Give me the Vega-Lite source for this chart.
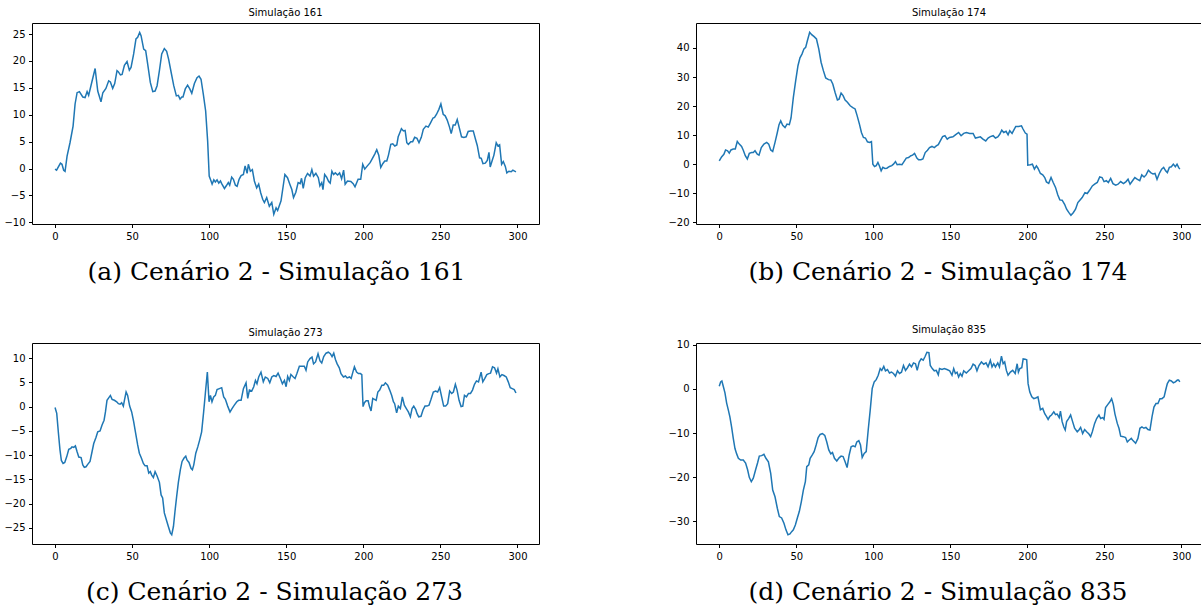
{
  "$schema": "https://vega.github.io/schema/vega-lite/v6.json",
  "padding": {"left": 1, "top": 7, "right": 0, "bottom": 0},
  "background": "white",
  "config": {
    "view": {"stroke": "#000", "strokeWidth": 1},
    "axis": {"grid": false, "domain": false, "tickColor": "#000", "tickSize": 3.5, "tickWidth": 1, "labelFont": "DejaVu Sans", "labelFontSize": 10, "labelColor": "#000", "labelPadding": 3.5},
    "axisY": {"minExtent": 30, "maxExtent": 30},
    "axisX": {"titleFont": "DejaVu Serif", "titleFontSize": 25, "titleFontWeight": "normal", "titleColor": "#000", "titlePadding": 18},
    "title": {"font": "DejaVu Sans", "fontSize": 10, "fontWeight": "normal", "color": "#000", "offset": 5},
    "line": {"color": "#1f77b4", "strokeWidth": 1.5}
  },
  "columns": 2,
  "spacing": {"row": 39, "column": 125},
  "concat": [
    {
      "title": "Simulação 161",
      "width": 507, "height": 201,
      "data": {"values": [
{"x":0,"y":-0.1},{"x":1,"y":-0.3},{"x":3.5,"y":1.0},{"x":4.5,"y":0.8},{"x":5.6,"y":-0.3},{"x":6.5,"y":-0.5},{"x":7.8,"y":2.3},{"x":9.7,"y":4.8},{"x":11.7,"y":7.9},{"x":13,"y":12.0},{"x":14.3,"y":14.1},{"x":15.8,"y":14.3},{"x":18,"y":13.3},{"x":19.5,"y":13.2},{"x":20.8,"y":14.3},{"x":21.8,"y":13.6},{"x":23.8,"y":16.0},{"x":26,"y":18.6},{"x":27.7,"y":14.4},{"x":29.8,"y":12.4},{"x":31,"y":14.1},{"x":33,"y":14.9},{"x":34.8,"y":16.3},{"x":35.9,"y":16.1},{"x":37.4,"y":14.9},{"x":38.7,"y":15.8},{"x":40.2,"y":18.2},{"x":41,"y":18.0},{"x":42.4,"y":17.4},{"x":43.5,"y":17.5},{"x":45,"y":19.2},{"x":46.7,"y":19.9},{"x":48.2,"y":18.3},{"x":49.3,"y":18.8},{"x":51,"y":21.3},{"x":52.5,"y":24.1},{"x":53.6,"y":24.4},{"x":54.9,"y":25.3},{"x":55.8,"y":24.7},{"x":57.5,"y":22.2},{"x":58.8,"y":21.9},{"x":60.1,"y":19.4},{"x":61.8,"y":16.0},{"x":63.4,"y":14.3},{"x":64.9,"y":14.4},{"x":66.2,"y":15.4},{"x":67.7,"y":18.2},{"x":69.2,"y":21.3},{"x":70.9,"y":22.3},{"x":72.4,"y":21.8},{"x":73.7,"y":20.3},{"x":75.3,"y":17.9},{"x":77,"y":15.4},{"x":78.7,"y":13.5},{"x":80,"y":13.6},{"x":81.1,"y":12.9},{"x":82.2,"y":13.3},{"x":83,"y":13.3},{"x":84.5,"y":14.8},{"x":86,"y":15.5},{"x":87.4,"y":14.8},{"x":88.7,"y":14.0},{"x":90.4,"y":15.8},{"x":92.1,"y":16.9},{"x":93.4,"y":17.2},{"x":94.7,"y":16.6},{"x":96.2,"y":13.8},{"x":97.7,"y":10.7},{"x":99,"y":5.1},{"x":100,"y":-1.4},{"x":101.2,"y":-2.3},{"x":101.9,"y":-2.9},{"x":103,"y":-2.1},{"x":104,"y":-2.5},{"x":105.1,"y":-2.1},{"x":106.2,"y":-2.7},{"x":107.3,"y":-2.3},{"x":108.1,"y":-2.8},{"x":109.9,"y":-3.7},{"x":111.1,"y":-3.2},{"x":112.4,"y":-2.6},{"x":113.3,"y":-3.1},{"x":114.6,"y":-1.6},{"x":115.7,"y":-2.0},{"x":117,"y":-3.1},{"x":118.1,"y":-3.3},{"x":119.4,"y":-2.0},{"x":120.7,"y":-1.3},{"x":122.2,"y":-1.1},{"x":123.3,"y":0.5},{"x":124.6,"y":-0.9},{"x":125.4,"y":0.8},{"x":126.7,"y":-0.5},{"x":128,"y":-0.2},{"x":129.3,"y":-2.3},{"x":130.8,"y":-3.6},{"x":132.1,"y":-2.9},{"x":133.4,"y":-4.5},{"x":134.7,"y":-5.7},{"x":135.8,"y":-6.3},{"x":137.3,"y":-5.4},{"x":139,"y":-7.0},{"x":140.6,"y":-6.3},{"x":141.9,"y":-8.5},{"x":143.4,"y":-7.3},{"x":144.4,"y":-7.8},{"x":146.6,"y":-6.0},{"x":149.1,"y":-1.1},{"x":150.8,"y":-1.7},{"x":152.3,"y":-2.9},{"x":153.6,"y":-3.9},{"x":154.7,"y":-5.4},{"x":156.2,"y":-4.4},{"x":157.7,"y":-2.6},{"x":159,"y":-2.8},{"x":159.9,"y":-1.8},{"x":161,"y":-3.7},{"x":162.3,"y":-1.7},{"x":163.8,"y":-0.9},{"x":165.4,"y":-1.4},{"x":166.6,"y":-0.2},{"x":167.7,"y":-1.4},{"x":169.2,"y":-0.9},{"x":170.8,"y":-1.7},{"x":171.8,"y":-3.2},{"x":173,"y":-2.6},{"x":173.8,"y":-3.9},{"x":174.9,"y":-1.1},{"x":176.2,"y":-1.6},{"x":177.5,"y":-2.4},{"x":178.5,"y":-2.7},{"x":179.6,"y":-0.5},{"x":180.7,"y":-1.1},{"x":181.8,"y":-0.8},{"x":183.3,"y":-1.2},{"x":184.6,"y":-0.8},{"x":185.9,"y":-1.9},{"x":187.2,"y":-0.3},{"x":188.2,"y":-2.9},{"x":189.7,"y":-2.3},{"x":191.9,"y":-2.4},{"x":193.4,"y":-2.8},{"x":194.6,"y":-3.4},{"x":196.6,"y":-2.0},{"x":198.3,"y":-2.0},{"x":199.6,"y":0.8},{"x":200.9,"y":-0.1},{"x":202.6,"y":0.5},{"x":204.4,"y":1.1},{"x":205.9,"y":1.9},{"x":207.4,"y":2.7},{"x":208.7,"y":3.5},{"x":210,"y":2.5},{"x":211.3,"y":0.2},{"x":212.6,"y":0.9},{"x":213.9,"y":1.4},{"x":215.2,"y":1.4},{"x":216.3,"y":2.5},{"x":217.8,"y":4.5},{"x":219.1,"y":4.6},{"x":220.4,"y":4.2},{"x":221.7,"y":4.4},{"x":222.6,"y":5.9},{"x":223.6,"y":6.6},{"x":224.7,"y":7.4},{"x":226,"y":7.0},{"x":227.1,"y":7.1},{"x":228.2,"y":4.8},{"x":229.2,"y":4.5},{"x":230.8,"y":5.0},{"x":232,"y":5.0},{"x":233.3,"y":5.8},{"x":234.8,"y":5.6},{"x":236.1,"y":4.8},{"x":237.6,"y":5.8},{"x":238.9,"y":7.3},{"x":240.6,"y":7.9},{"x":242.1,"y":7.7},{"x":243.6,"y":8.5},{"x":245.2,"y":9.4},{"x":246.2,"y":9.5},{"x":247.5,"y":10.1},{"x":249,"y":11.0},{"x":250.3,"y":12.0},{"x":251.8,"y":10.1},{"x":253.1,"y":9.8},{"x":254.4,"y":9.0},{"x":255.9,"y":7.7},{"x":257,"y":6.5},{"x":258.3,"y":8.1},{"x":259.6,"y":8.1},{"x":260.9,"y":9.1},{"x":262.4,"y":7.4},{"x":263.7,"y":5.9},{"x":265.2,"y":5.8},{"x":266.7,"y":5.9},{"x":268,"y":6.9},{"x":269.5,"y":7.0},{"x":271.3,"y":7.0},{"x":272.8,"y":5.4},{"x":273.9,"y":4.3},{"x":275.4,"y":2.0},{"x":276.5,"y":1.9},{"x":277.6,"y":0.9},{"x":279.1,"y":1.0},{"x":280.4,"y":1.5},{"x":281.5,"y":3.0},{"x":282.3,"y":0.3},{"x":283.6,"y":1.5},{"x":284.7,"y":2.5},{"x":286.2,"y":4.8},{"x":287.3,"y":4.2},{"x":288.4,"y":4.4},{"x":289.7,"y":0.8},{"x":290.8,"y":1.3},{"x":292.1,"y":0.4},{"x":293.1,"y":-0.8},{"x":294.4,"y":-0.5},{"x":295.9,"y":-0.6},{"x":297,"y":-0.3},{"x":299,"y":-0.6}
      ]},
      "mark": {"type": "line"},
      "encoding": {
        "x": {"field": "x", "type": "quantitative", "scale": {"domain": [-14.95, 313.95], "nice": false, "zero": false}, "axis": {"values": [0, 50, 100, 150, 200, 250, 300], "title": "(a) Cenário 2 - Simulação 161", "titleX": 244}},
        "y": {"field": "y", "type": "quantitative", "scale": {"domain": [-10.3, 27.05], "nice": false, "zero": false}, "axis": {"values": [-10, -5, 0, 5, 10, 15, 20, 25], "title": null}}
      }
    },
    {
      "title": "Simulação 174",
      "width": 506, "height": 201,
      "data": {"values": [
{"x":0,"y":1.1},{"x":1.5,"y":2.5},{"x":3,"y":3.4},{"x":4.1,"y":4.9},{"x":5.4,"y":4.6},{"x":6.5,"y":3.8},{"x":7.6,"y":4.9},{"x":9.1,"y":5.2},{"x":10.4,"y":5.2},{"x":11.7,"y":7.8},{"x":13,"y":6.9},{"x":14.5,"y":6.1},{"x":15.6,"y":4.8},{"x":16.9,"y":2.9},{"x":18.2,"y":1.8},{"x":19.5,"y":3.7},{"x":21,"y":4.0},{"x":22.1,"y":4.0},{"x":23.2,"y":4.6},{"x":24.7,"y":3.4},{"x":25.8,"y":3.1},{"x":27.3,"y":5.7},{"x":29,"y":6.9},{"x":30.8,"y":7.5},{"x":32.1,"y":6.9},{"x":33.4,"y":4.9},{"x":34.7,"y":4.4},{"x":36.2,"y":7.5},{"x":37.7,"y":10.9},{"x":38.8,"y":13.6},{"x":39.9,"y":14.9},{"x":41.2,"y":13.4},{"x":42.7,"y":12.6},{"x":44,"y":13.8},{"x":45.5,"y":13.6},{"x":46.6,"y":15.9},{"x":48.1,"y":23.0},{"x":49.6,"y":28.7},{"x":51.1,"y":33.9},{"x":52.4,"y":36.6},{"x":53.7,"y":37.9},{"x":55,"y":39.7},{"x":56.1,"y":40.2},{"x":57.2,"y":42.5},{"x":58.7,"y":45.4},{"x":60,"y":44.6},{"x":61.6,"y":43.9},{"x":63.1,"y":43.1},{"x":64.6,"y":39.7},{"x":66.1,"y":35.1},{"x":67.6,"y":32.2},{"x":69.1,"y":29.7},{"x":70.9,"y":29.1},{"x":72.4,"y":29.0},{"x":73.7,"y":27.6},{"x":75.2,"y":24.7},{"x":76.7,"y":22.1},{"x":77.8,"y":22.4},{"x":79.1,"y":24.5},{"x":80.4,"y":23.6},{"x":81.7,"y":22.1},{"x":83.2,"y":21.3},{"x":85,"y":20.1},{"x":86.7,"y":19.5},{"x":88.2,"y":19.0},{"x":89.5,"y":16.7},{"x":91,"y":13.8},{"x":92.3,"y":10.9},{"x":93.6,"y":9.2},{"x":94.9,"y":9.0},{"x":96.2,"y":7.7},{"x":97.5,"y":7.5},{"x":98.8,"y":7.8},{"x":99.7,"y":0.0},{"x":100.8,"y":-0.8},{"x":101.9,"y":-0.5},{"x":103,"y":0.6},{"x":104,"y":-0.6},{"x":105.1,"y":-2.3},{"x":106.2,"y":-1.1},{"x":107.5,"y":-1.5},{"x":108.8,"y":-1.4},{"x":110.5,"y":-0.8},{"x":112,"y":-0.5},{"x":113.1,"y":0.0},{"x":114.4,"y":0.9},{"x":115.5,"y":-0.2},{"x":117,"y":0.0},{"x":118.6,"y":-0.2},{"x":119.6,"y":0.6},{"x":121.4,"y":2.1},{"x":122.9,"y":2.3},{"x":124.4,"y":2.9},{"x":125.5,"y":3.1},{"x":126.8,"y":3.7},{"x":128.3,"y":2.1},{"x":129.4,"y":1.5},{"x":130.9,"y":1.5},{"x":132.2,"y":1.8},{"x":133.7,"y":4.0},{"x":135.2,"y":4.8},{"x":136.5,"y":5.7},{"x":138.1,"y":6.1},{"x":139.6,"y":5.7},{"x":140.9,"y":6.3},{"x":142.2,"y":6.7},{"x":143.5,"y":8.0},{"x":145,"y":9.5},{"x":146.5,"y":9.8},{"x":148,"y":8.6},{"x":149.5,"y":9.2},{"x":151.7,"y":9.4},{"x":153.3,"y":10.1},{"x":155.4,"y":10.9},{"x":157,"y":9.8},{"x":158.7,"y":10.6},{"x":160.4,"y":10.9},{"x":162.6,"y":10.6},{"x":164.8,"y":10.6},{"x":166.3,"y":9.0},{"x":167.8,"y":9.2},{"x":169.5,"y":9.4},{"x":171.2,"y":8.6},{"x":173,"y":8.0},{"x":174.5,"y":9.0},{"x":176,"y":9.5},{"x":177.8,"y":9.8},{"x":179.3,"y":9.0},{"x":180.8,"y":9.4},{"x":182.1,"y":10.3},{"x":183.4,"y":11.7},{"x":184.7,"y":10.9},{"x":186.2,"y":11.3},{"x":187.5,"y":10.1},{"x":188.6,"y":11.5},{"x":190.1,"y":10.6},{"x":191.2,"y":11.7},{"x":192.5,"y":13.0},{"x":194.4,"y":13.0},{"x":196.2,"y":13.2},{"x":197.2,"y":12.1},{"x":198.7,"y":10.7},{"x":199.8,"y":10.3},{"x":200.3,"y":-0.3},{"x":201.9,"y":-0.2},{"x":203.3,"y":0.0},{"x":204.6,"y":-1.7},{"x":205.9,"y":-0.6},{"x":206.9,"y":-1.4},{"x":208.5,"y":-3.2},{"x":210,"y":-3.7},{"x":211.3,"y":-4.6},{"x":212.4,"y":-6.1},{"x":213.9,"y":-6.6},{"x":215.4,"y":-4.6},{"x":216.8,"y":-6.3},{"x":218.3,"y":-8.0},{"x":219.8,"y":-10.6},{"x":221.1,"y":-12.3},{"x":222.6,"y":-12.4},{"x":224.2,"y":-13.8},{"x":225.5,"y":-15.5},{"x":227,"y":-16.7},{"x":228.3,"y":-17.6},{"x":229.8,"y":-16.7},{"x":231.3,"y":-15.5},{"x":232.8,"y":-13.2},{"x":234.1,"y":-12.4},{"x":235.6,"y":-11.5},{"x":237.4,"y":-9.8},{"x":238.9,"y":-10.1},{"x":240.4,"y":-9.0},{"x":242.2,"y":-7.5},{"x":243.7,"y":-6.9},{"x":245.4,"y":-6.3},{"x":247,"y":-4.4},{"x":248.5,"y":-4.6},{"x":249.8,"y":-6.0},{"x":251.3,"y":-5.7},{"x":252.6,"y":-6.3},{"x":254.1,"y":-4.9},{"x":255.6,"y":-6.7},{"x":257.4,"y":-7.2},{"x":258.9,"y":-6.9},{"x":260.6,"y":-6.0},{"x":262.4,"y":-6.7},{"x":264.1,"y":-6.0},{"x":265.4,"y":-5.2},{"x":266.7,"y":-6.9},{"x":268.3,"y":-5.7},{"x":269.8,"y":-4.6},{"x":271.5,"y":-5.2},{"x":273,"y":-5.7},{"x":274.3,"y":-3.7},{"x":275.8,"y":-4.4},{"x":277.1,"y":-3.7},{"x":278.6,"y":-2.1},{"x":280.1,"y":-2.9},{"x":281.6,"y":-3.4},{"x":282.9,"y":-3.2},{"x":284.2,"y":-5.2},{"x":285.7,"y":-3.2},{"x":287.2,"y":-1.7},{"x":288.5,"y":-1.1},{"x":289.8,"y":-2.3},{"x":290.9,"y":-2.9},{"x":292.2,"y":-1.1},{"x":293.5,"y":-0.9},{"x":294.8,"y":0.0},{"x":296.1,"y":-0.9},{"x":297.2,"y":0.0},{"x":298.2,"y":-1.1},{"x":299,"y":-1.7}
      ]},
      "mark": {"type": "line"},
      "encoding": {
        "x": {"field": "x", "type": "quantitative", "scale": {"domain": [-15.1, 313.4], "nice": false, "zero": false}, "axis": {"values": [0, 50, 100, 150, 200, 250, 300], "title": "(b) Cenário 2 - Simulação 174", "titleX": 241.5}},
        "y": {"field": "y", "type": "quantitative", "scale": {"domain": [-20.6, 48.6], "nice": false, "zero": false}, "axis": {"values": [-20, -10, 0, 10, 20, 30, 40], "title": null}}
      }
    },
    {
      "title": "Simulação 273",
      "width": 507, "height": 201,
      "data": {"values": [
{"x":0,"y":-0.2},{"x":1.1,"y":-1.4},{"x":2.2,"y":-5.5},{"x":3.2,"y":-8.9},{"x":4.1,"y":-11.1},{"x":5.2,"y":-11.7},{"x":6.3,"y":-11.5},{"x":7.6,"y":-10.3},{"x":8.9,"y":-8.8},{"x":10.2,"y":-8.6},{"x":11,"y":-8.3},{"x":12.1,"y":-8.4},{"x":13.2,"y":-8.1},{"x":14.3,"y":-9.3},{"x":15.4,"y":-10.4},{"x":16.9,"y":-10.5},{"x":18,"y":-12.0},{"x":19,"y":-12.5},{"x":20.1,"y":-12.4},{"x":21.2,"y":-11.9},{"x":22.7,"y":-11.3},{"x":24,"y":-9.3},{"x":25.1,"y":-7.6},{"x":26.6,"y":-6.3},{"x":27.7,"y":-5.2},{"x":29.2,"y":-5.0},{"x":30.5,"y":-3.8},{"x":31.8,"y":-2.8},{"x":32.7,"y":-1.1},{"x":33.7,"y":1.3},{"x":34.8,"y":1.8},{"x":35.9,"y":2.3},{"x":37,"y":1.5},{"x":38.5,"y":1.3},{"x":40,"y":1.0},{"x":41.1,"y":0.6},{"x":42.2,"y":0.5},{"x":43.2,"y":0.8},{"x":44.3,"y":0.1},{"x":45,"y":1.3},{"x":46.1,"y":3.0},{"x":47.1,"y":2.3},{"x":48.4,"y":0.1},{"x":49.7,"y":-1.1},{"x":51,"y":-3.1},{"x":52.3,"y":-5.5},{"x":53.6,"y":-7.9},{"x":54.7,"y":-9.6},{"x":56,"y":-10.6},{"x":57.3,"y":-11.7},{"x":58.4,"y":-12.2},{"x":59.7,"y":-12.2},{"x":60.8,"y":-13.7},{"x":61.8,"y":-13.4},{"x":62.7,"y":-14.1},{"x":63.8,"y":-14.6},{"x":64.9,"y":-13.4},{"x":66.2,"y":-14.3},{"x":67.7,"y":-15.6},{"x":68.8,"y":-18.2},{"x":69.8,"y":-18.8},{"x":70.9,"y":-21.9},{"x":72.2,"y":-23.3},{"x":73.5,"y":-24.7},{"x":74.8,"y":-26.0},{"x":75.7,"y":-26.4},{"x":76.8,"y":-24.7},{"x":77.8,"y":-21.6},{"x":78.9,"y":-18.5},{"x":80,"y":-15.6},{"x":81.3,"y":-13.0},{"x":82.4,"y":-11.3},{"x":83.7,"y":-10.6},{"x":84.8,"y":-10.2},{"x":85.6,"y":-11.0},{"x":86.9,"y":-11.5},{"x":88.2,"y":-12.7},{"x":89.1,"y":-13.0},{"x":90,"y":-12.0},{"x":91.3,"y":-9.6},{"x":92.6,"y":-8.3},{"x":93.8,"y":-6.9},{"x":95.1,"y":-5.2},{"x":96.4,"y":-1.1},{"x":97.5,"y":2.7},{"x":98.8,"y":7.1},{"x":99.9,"y":1.0},{"x":100.8,"y":2.3},{"x":101.8,"y":1.0},{"x":102.9,"y":2.0},{"x":104,"y":2.3},{"x":105.1,"y":3.5},{"x":106.6,"y":3.7},{"x":108.1,"y":3.9},{"x":109.4,"y":2.0},{"x":110.5,"y":1.5},{"x":112,"y":0.1},{"x":113.5,"y":-1.1},{"x":114.8,"y":-0.4},{"x":116.3,"y":0.3},{"x":117.9,"y":1.0},{"x":119.1,"y":1.3},{"x":120.7,"y":1.3},{"x":122.2,"y":3.7},{"x":123.9,"y":4.9},{"x":125,"y":1.7},{"x":126.1,"y":3.4},{"x":127.6,"y":3.2},{"x":128.9,"y":4.1},{"x":130,"y":5.4},{"x":131,"y":4.7},{"x":132.1,"y":6.1},{"x":133.6,"y":7.1},{"x":135.1,"y":5.1},{"x":136.4,"y":6.1},{"x":138,"y":5.8},{"x":139.3,"y":4.9},{"x":140.6,"y":6.1},{"x":141.9,"y":6.4},{"x":143.4,"y":6.2},{"x":144.7,"y":6.9},{"x":146.2,"y":5.8},{"x":147.5,"y":4.7},{"x":148.8,"y":5.4},{"x":149.9,"y":4.1},{"x":150.9,"y":6.2},{"x":152,"y":5.4},{"x":153,"y":6.6},{"x":154.6,"y":6.1},{"x":155.7,"y":5.8},{"x":156.9,"y":6.8},{"x":158.5,"y":8.3},{"x":160,"y":8.3},{"x":161.7,"y":8.3},{"x":162.8,"y":7.5},{"x":163.9,"y":9.2},{"x":165.4,"y":9.9},{"x":166.7,"y":10.2},{"x":167.7,"y":8.8},{"x":169,"y":9.2},{"x":170.6,"y":10.9},{"x":171.9,"y":9.4},{"x":173,"y":9.0},{"x":174.3,"y":10.3},{"x":175.8,"y":11.0},{"x":177.3,"y":11.2},{"x":178.6,"y":10.9},{"x":179.7,"y":10.3},{"x":180.8,"y":11.0},{"x":181.9,"y":9.7},{"x":183,"y":8.8},{"x":184.4,"y":8.0},{"x":185.5,"y":6.8},{"x":187.1,"y":6.1},{"x":188.4,"y":6.3},{"x":189.5,"y":5.9},{"x":191,"y":6.1},{"x":192.1,"y":5.8},{"x":193.2,"y":7.1},{"x":194.2,"y":8.2},{"x":195.6,"y":7.1},{"x":196.8,"y":6.8},{"x":198.1,"y":6.8},{"x":199,"y":6.6},{"x":199.8,"y":0.0},{"x":200.7,"y":0.8},{"x":201.8,"y":1.2},{"x":203.1,"y":1.2},{"x":204,"y":0.0},{"x":205,"y":-0.9},{"x":206.1,"y":1.7},{"x":207.2,"y":1.5},{"x":208.3,"y":1.3},{"x":209.4,"y":3.0},{"x":210.6,"y":3.4},{"x":212,"y":4.4},{"x":213.2,"y":4.4},{"x":214.3,"y":4.9},{"x":215.8,"y":4.4},{"x":217.1,"y":3.4},{"x":218.4,"y":2.3},{"x":219.5,"y":1.0},{"x":220.3,"y":0.6},{"x":221.6,"y":-1.3},{"x":222.7,"y":0.1},{"x":224,"y":-0.4},{"x":225.3,"y":2.0},{"x":226.6,"y":0.3},{"x":227.9,"y":-0.4},{"x":229.2,"y":-1.1},{"x":230.5,"y":-2.1},{"x":231.6,"y":-0.4},{"x":232.7,"y":0.1},{"x":234,"y":-0.6},{"x":234.8,"y":-1.4},{"x":235.9,"y":-2.1},{"x":237.4,"y":-2.0},{"x":238.7,"y":-0.7},{"x":240,"y":0.1},{"x":241.3,"y":0.1},{"x":242.6,"y":0.3},{"x":243.9,"y":1.5},{"x":245.4,"y":3.0},{"x":246.9,"y":3.2},{"x":248.2,"y":3.0},{"x":249.5,"y":3.9},{"x":250.8,"y":2.0},{"x":252.1,"y":0.1},{"x":253.4,"y":0.1},{"x":254.7,"y":0.6},{"x":256,"y":3.2},{"x":257.3,"y":2.7},{"x":258.4,"y":3.0},{"x":259.7,"y":4.6},{"x":260.8,"y":3.4},{"x":262.1,"y":1.3},{"x":263.4,"y":0.0},{"x":264.5,"y":0.1},{"x":265.6,"y":2.3},{"x":266.9,"y":2.0},{"x":268.2,"y":2.7},{"x":269.5,"y":2.7},{"x":270.8,"y":3.4},{"x":272.1,"y":4.6},{"x":273.4,"y":5.3},{"x":274.7,"y":5.1},{"x":276.4,"y":7.1},{"x":277.5,"y":5.1},{"x":278.8,"y":5.8},{"x":280.1,"y":6.6},{"x":281.4,"y":6.8},{"x":282.5,"y":6.9},{"x":283.8,"y":8.2},{"x":285.1,"y":8.0},{"x":286.4,"y":6.9},{"x":287.3,"y":7.8},{"x":288.6,"y":6.1},{"x":289.9,"y":6.6},{"x":291.2,"y":6.4},{"x":292.7,"y":6.1},{"x":294,"y":5.1},{"x":295.3,"y":3.9},{"x":296.6,"y":3.7},{"x":297.9,"y":3.5},{"x":299,"y":2.8}
      ]},
      "mark": {"type": "line"},
      "encoding": {
        "x": {"field": "x", "type": "quantitative", "scale": {"domain": [-14.95, 313.95], "nice": false, "zero": false}, "axis": {"values": [0, 50, 100, 150, 200, 250, 300], "title": "(c) Cenário 2 - Simulação 273", "titleX": 242}},
        "y": {"field": "y", "type": "quantitative", "scale": {"domain": [-28.3, 13.1], "nice": false, "zero": false}, "axis": {"values": [-25, -20, -15, -10, -5, 0, 5, 10], "title": null}}
      }
    },
    {
      "title": "Simulação 835",
      "width": 506, "height": 201,
      "data": {"values": [
{"x":0,"y":0.6},{"x":0.9,"y":1.6},{"x":1.7,"y":1.8},{"x":2.6,"y":0.6},{"x":3.7,"y":-0.9},{"x":4.8,"y":-3.2},{"x":5.9,"y":-4.8},{"x":6.9,"y":-6.3},{"x":8,"y":-8.6},{"x":9.1,"y":-11.2},{"x":10.2,"y":-13.5},{"x":11.3,"y":-14.7},{"x":12.4,"y":-15.7},{"x":13.9,"y":-16.1},{"x":15.6,"y":-16.1},{"x":17.1,"y":-16.8},{"x":18.4,"y":-18.3},{"x":19.5,"y":-20.0},{"x":20.8,"y":-21.0},{"x":22.1,"y":-20.2},{"x":23.6,"y":-18.3},{"x":24.9,"y":-16.7},{"x":26,"y":-15.2},{"x":27.5,"y":-15.1},{"x":29,"y":-14.8},{"x":30.3,"y":-15.7},{"x":31.9,"y":-16.5},{"x":33.4,"y":-19.1},{"x":34.7,"y":-22.9},{"x":36.2,"y":-24.4},{"x":37.7,"y":-27.0},{"x":39,"y":-28.9},{"x":40.5,"y":-29.2},{"x":42,"y":-30.4},{"x":43.3,"y":-31.9},{"x":44.6,"y":-33.0},{"x":45.9,"y":-32.8},{"x":47,"y":-32.3},{"x":48.1,"y":-31.9},{"x":49.4,"y":-30.8},{"x":50.7,"y":-29.2},{"x":52,"y":-27.7},{"x":53.3,"y":-25.5},{"x":54.6,"y":-22.9},{"x":55.9,"y":-21.0},{"x":56.8,"y":-17.6},{"x":58.1,"y":-17.2},{"x":59,"y":-15.7},{"x":60.3,"y":-15.0},{"x":61.6,"y":-14.2},{"x":62.9,"y":-12.7},{"x":64.2,"y":-11.0},{"x":65.5,"y":-10.3},{"x":67,"y":-10.1},{"x":68.5,"y":-10.5},{"x":69.8,"y":-12.0},{"x":71.1,"y":-13.8},{"x":72.4,"y":-14.7},{"x":73.5,"y":-14.4},{"x":74.8,"y":-15.7},{"x":76.3,"y":-16.3},{"x":77.8,"y":-15.6},{"x":79.1,"y":-15.2},{"x":80.4,"y":-15.3},{"x":81.7,"y":-16.5},{"x":83,"y":-17.8},{"x":84.3,"y":-15.0},{"x":85.6,"y":-13.1},{"x":86.9,"y":-12.9},{"x":88.2,"y":-13.1},{"x":89.3,"y":-12.0},{"x":90.6,"y":-11.7},{"x":91.7,"y":-12.7},{"x":92.8,"y":-15.5},{"x":94.1,"y":-14.6},{"x":95.4,"y":-14.2},{"x":96.7,"y":-9.3},{"x":98,"y":-4.8},{"x":99.3,"y":0.1},{"x":100.6,"y":1.6},{"x":101.9,"y":2.1},{"x":103.2,"y":3.1},{"x":104.5,"y":4.6},{"x":105.5,"y":4.2},{"x":106.8,"y":5.1},{"x":107.9,"y":4.1},{"x":109.2,"y":4.4},{"x":110.5,"y":3.6},{"x":111.8,"y":3.8},{"x":113.1,"y":3.5},{"x":114.4,"y":2.9},{"x":115.7,"y":4.1},{"x":117,"y":3.5},{"x":118.3,"y":3.8},{"x":119.6,"y":5.3},{"x":120.9,"y":4.2},{"x":122.2,"y":4.8},{"x":123.5,"y":5.6},{"x":124.8,"y":5.0},{"x":126.1,"y":5.9},{"x":127.4,"y":5.7},{"x":128.5,"y":4.2},{"x":129.8,"y":6.1},{"x":131.1,"y":6.8},{"x":132.4,"y":6.5},{"x":133.7,"y":7.4},{"x":134.8,"y":8.3},{"x":136.1,"y":8.2},{"x":137,"y":5.3},{"x":138.3,"y":4.6},{"x":139.6,"y":4.1},{"x":140.9,"y":4.2},{"x":142.2,"y":3.2},{"x":143,"y":4.6},{"x":144.6,"y":4.4},{"x":146.1,"y":4.6},{"x":147.8,"y":4.4},{"x":149.6,"y":4.1},{"x":151.1,"y":3.1},{"x":152.2,"y":4.6},{"x":153.3,"y":3.5},{"x":154.4,"y":3.8},{"x":155.4,"y":2.7},{"x":156.5,"y":3.5},{"x":157.6,"y":2.9},{"x":158.7,"y":4.1},{"x":160.4,"y":3.6},{"x":161.9,"y":4.1},{"x":163.4,"y":4.6},{"x":164.8,"y":5.6},{"x":166.1,"y":5.3},{"x":167.3,"y":4.1},{"x":168.6,"y":5.3},{"x":170.2,"y":6.1},{"x":171.7,"y":5.6},{"x":173.2,"y":5.9},{"x":174.5,"y":5.0},{"x":176,"y":6.5},{"x":177.1,"y":5.0},{"x":178.2,"y":5.7},{"x":179.3,"y":5.0},{"x":180.8,"y":5.9},{"x":181.9,"y":5.0},{"x":183.2,"y":7.4},{"x":184.3,"y":5.7},{"x":185.3,"y":6.1},{"x":186.4,"y":4.2},{"x":187.5,"y":3.1},{"x":189,"y":3.8},{"x":190.5,"y":4.2},{"x":192.1,"y":3.5},{"x":193.4,"y":5.7},{"x":194.2,"y":3.8},{"x":195.1,"y":4.6},{"x":196.4,"y":4.8},{"x":197.3,"y":6.8},{"x":198.6,"y":6.7},{"x":199.6,"y":6.6},{"x":200.5,"y":1.2},{"x":201.6,"y":-0.7},{"x":202.9,"y":-1.8},{"x":204.2,"y":-2.2},{"x":205.8,"y":-2.0},{"x":206.9,"y":-1.8},{"x":208.5,"y":-4.7},{"x":210,"y":-4.4},{"x":211.3,"y":-5.6},{"x":212.4,"y":-6.2},{"x":213.5,"y":-6.9},{"x":214.6,"y":-6.2},{"x":215.7,"y":-5.9},{"x":217.2,"y":-5.2},{"x":218.3,"y":-5.8},{"x":219.4,"y":-5.7},{"x":220.7,"y":-6.5},{"x":221.5,"y":-5.0},{"x":222.6,"y":-7.4},{"x":223.7,"y":-8.6},{"x":224.6,"y":-9.3},{"x":225.5,"y":-7.4},{"x":226.8,"y":-6.7},{"x":228.1,"y":-5.9},{"x":229.4,"y":-7.4},{"x":230.7,"y":-8.9},{"x":232.4,"y":-9.7},{"x":233.5,"y":-9.3},{"x":234.6,"y":-8.7},{"x":235.9,"y":-10.1},{"x":237.2,"y":-9.2},{"x":238.5,"y":-9.7},{"x":240,"y":-10.2},{"x":241.1,"y":-10.8},{"x":242.2,"y":-9.7},{"x":243.7,"y":-7.8},{"x":245,"y":-6.7},{"x":246.5,"y":-5.9},{"x":247.6,"y":-6.7},{"x":248.9,"y":-6.5},{"x":249.8,"y":-6.9},{"x":250.8,"y":-4.2},{"x":252.3,"y":-3.5},{"x":253.6,"y":-2.9},{"x":254.7,"y":-2.2},{"x":255.8,"y":-3.5},{"x":256.9,"y":-5.7},{"x":258.4,"y":-7.8},{"x":259.5,"y":-8.9},{"x":260.6,"y":-10.7},{"x":262.3,"y":-10.8},{"x":263.8,"y":-11.0},{"x":264.9,"y":-12.0},{"x":266,"y":-11.6},{"x":267.5,"y":-11.2},{"x":268.6,"y":-11.7},{"x":270.3,"y":-12.3},{"x":271.8,"y":-11.2},{"x":273.1,"y":-8.9},{"x":274.4,"y":-8.6},{"x":275.7,"y":-8.9},{"x":277,"y":-8.7},{"x":278.3,"y":-9.2},{"x":279.6,"y":-9.3},{"x":281,"y":-6.2},{"x":282.2,"y":-4.1},{"x":283.5,"y":-3.3},{"x":284.8,"y":-3.3},{"x":286.1,"y":-2.2},{"x":287.4,"y":-2.2},{"x":288.8,"y":-1.8},{"x":289.8,"y":-0.3},{"x":290.9,"y":1.2},{"x":292.2,"y":2.0},{"x":293.5,"y":1.8},{"x":294.8,"y":1.4},{"x":296.1,"y":1.6},{"x":297.4,"y":2.0},{"x":298.2,"y":2.0},{"x":299,"y":1.6}
      ]},
      "mark": {"type": "line"},
      "encoding": {
        "x": {"field": "x", "type": "quantitative", "scale": {"domain": [-15.1, 313.4], "nice": false, "zero": false}, "axis": {"values": [0, 50, 100, 150, 200, 250, 300], "title": "(d) Cenário 2 - Simulação 835", "titleX": 241.5}},
        "y": {"field": "y", "type": "quantitative", "scale": {"domain": [-35.1, 10.4], "nice": false, "zero": false}, "axis": {"values": [-30, -20, -10, 0, 10], "title": null}}
      }
    }
  ]
}
